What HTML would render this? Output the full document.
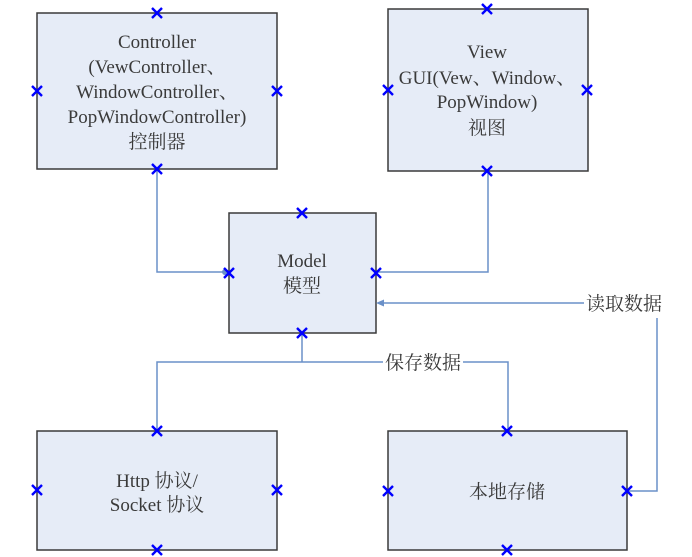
<!DOCTYPE html>
<html><head><meta charset="utf-8"><style>
html,body{margin:0;padding:0;background:#fff;}
svg{display:block;}
text{font-family:"Liberation Serif","Noto Serif CJK SC",serif;font-size:19px;fill:#3a3a3a;text-anchor:middle;}
</style></head><body>
<svg width="692" height="557" viewBox="0 0 692 557" xmlns="http://www.w3.org/2000/svg">
<defs>
<g id="x"><path d="M-5,-5L5,5M5,-5L-5,5" stroke="#0000ff" stroke-width="2.4"/></g>
</defs>
<g fill="#e6ecf7" stroke="#3a3a3a" stroke-width="1.5">
<rect x="37" y="13" width="240" height="156"/>
<rect x="388" y="9" width="200" height="162"/>
<rect x="229" y="213" width="147" height="120"/>
<rect x="37" y="431" width="240" height="119"/>
<rect x="388" y="431" width="239" height="119"/>
</g>
<g fill="none" stroke="#6a90c8" stroke-width="1.5">
<path d="M157,169V272H229"/>
<path d="M488,171V272H376"/>
<path d="M302,333V362"/>
<path d="M157,431V362H383M463,362H508V431"/>
<path d="M627,491H657V318"/>
<path d="M584,303H378"/>
</g>
<path d="M376,303l8,-3.5v7z" fill="#6a90c8"/>
<circle cx="225" cy="272" r="3" fill="#6a90c8"/>
<text x="157" y="48">Controller</text>
<text x="157" y="73">(VewController、</text>
<text x="157" y="98">WindowController、</text>
<text x="157" y="123">PopWindowController)</text>
<text x="157" y="148">控制器</text>
<text x="487" y="58">View</text>
<text x="487" y="84">GUI(Vew、Window、</text>
<text x="487" y="108">PopWindow)</text>
<text x="487" y="134">视图</text>
<text x="302" y="267">Model</text>
<text x="302" y="292">模型</text>
<text x="157" y="487">Http 协议/</text>
<text x="157" y="511">Socket 协议</text>
<text x="507" y="498">本地存储</text>
<text x="624" y="310">读取数据</text>
<text x="423" y="369">保存数据</text>
<use href="#x" x="157" y="13"/><use href="#x" x="37" y="91"/><use href="#x" x="277" y="91"/><use href="#x" x="157" y="169"/>
<use href="#x" x="487" y="9"/><use href="#x" x="388" y="90"/><use href="#x" x="587" y="90"/><use href="#x" x="487" y="171"/>
<use href="#x" x="302" y="213"/><use href="#x" x="229" y="273"/><use href="#x" x="376" y="273"/><use href="#x" x="302" y="333"/>
<use href="#x" x="157" y="431"/><use href="#x" x="37" y="490"/><use href="#x" x="277" y="490"/><use href="#x" x="157" y="550"/>
<use href="#x" x="507" y="431"/><use href="#x" x="388" y="491"/><use href="#x" x="627" y="491"/><use href="#x" x="507" y="550"/>
</svg>
</body></html>
